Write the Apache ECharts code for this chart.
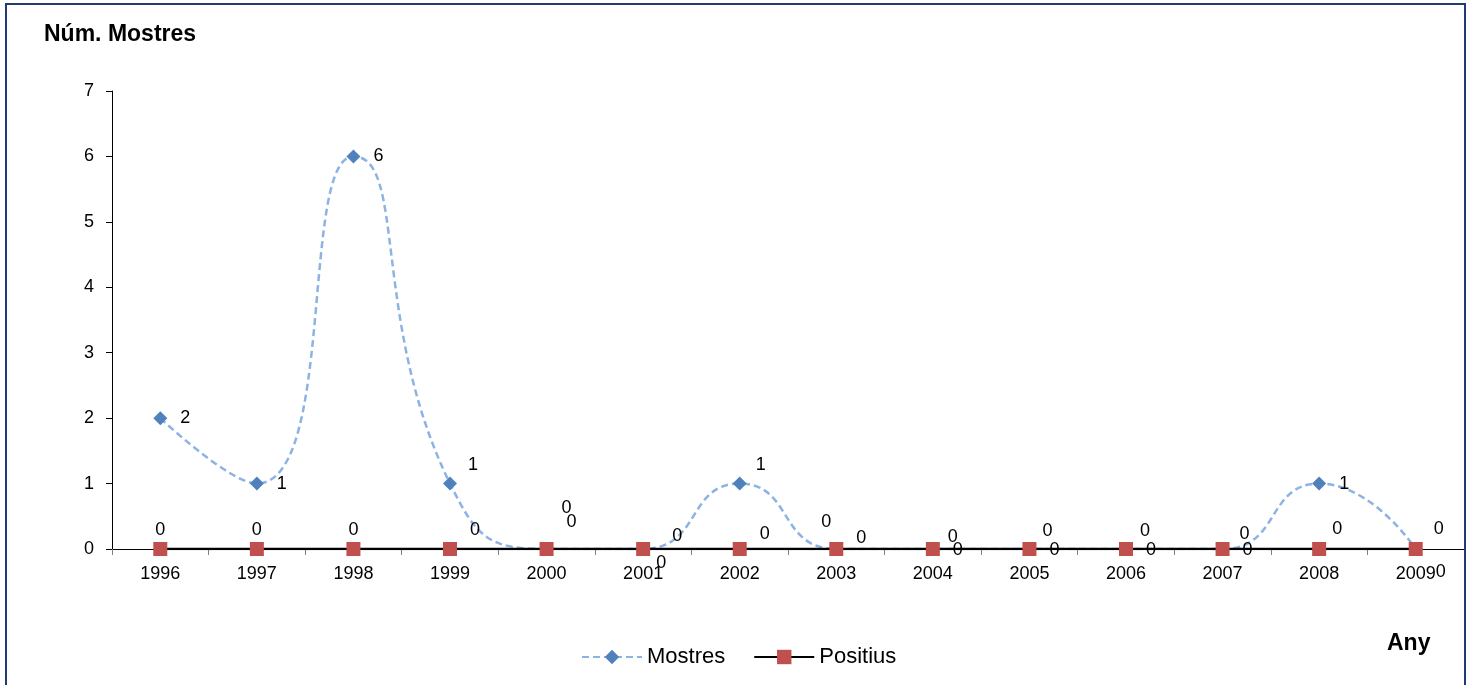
<!DOCTYPE html>
<html>
<head>
<meta charset="utf-8">
<script src="https://cdn.jsdelivr.net/npm/echarts@6/dist/echarts.min.js"></script>
<style>
html,body{margin:0;padding:0;background:#fff;}
#chart{width:1470px;height:685px;}
</style>
</head>
<body>
<div id="chart"></div>
<script>
// ---- data ----
var years = ['1996','1997','1998','1999','2000','2001','2002','2003','2004','2005','2006','2007','2008','2009'];
var mostres = [2, 1, 6, 1, 0, 0, 1, 0, 0, 0, 0, 0, 1, 0];
var positius = [0, 0, 0, 0, 0, 0, 0, 0, 0, 0, 0, 0, 0, 0];
var yTicks = [0, 1, 2, 3, 4, 5, 6, 7];

// label nudges (styling only)
var offM = [[25,0],[25,0],[25,0],[23,-19],[25,-27],[34,-13],[21,-19],[25,-11],[25,1],[25,1],[25,1],[25,1],[25,0],[25,23]];
var offP = [[0,-19],[0,-19],[0,-19],[25,-19],[20,-41],[18,14],[25,-15],[-10,-27],[20,-12],[18,-18],[19,-18],[22,-15],[18,-20],[23,-20]];

var FONT = '"Liberation Sans", Arial, sans-serif';
var labelBase = {show:true, position:'inside', color:'#000', fontFamily:FONT, fontSize:18};

function build(vals, offs){
  return vals.map(function(v,i){
    return {value:v, label:{offset:offs[i]}};
  });
}

var chart = echarts.init(document.getElementById('chart'));
chart.setOption({
  animation:false,
  backgroundColor:'#fff',
  title:{
    text:'Núm. Mostres', left:39, top:18,
    textStyle:{fontFamily:FONT, fontSize:23, fontWeight:'bold', color:'#000'}
  },
  graphic:[
    {type:'rect', shape:{x:6, y:4, width:1459, height:700}, style:{fill:'none', stroke:'#1f3a78', lineWidth:2}, z:100},
    {type:'text', left:1387, top:632, style:{text:'Any', font:'bold 23px "Liberation Sans", Arial, sans-serif', fill:'#000'}}
  ],
  legend:{
    left:576, top:641, itemWidth:60, itemHeight:18, itemGap:28,
    textStyle:{fontFamily:FONT, fontSize:22, color:'#000'},
    data:['Mostres','Positius']
  },
  grid:{left:112, right:6, top:91, bottom:136, containLabel:false},
  xAxis:{
    type:'category', data:years, boundaryGap:true,
    axisLine:{lineStyle:{color:'#000', width:1}},
    axisTick:{show:true, length:6, lineStyle:{color:'#808080'}},
    axisLabel:{color:'#000', fontFamily:FONT, fontSize:18, margin:16}
  },
  yAxis:{
    type:'value', min:0, max:7, interval:1,
    axisLine:{show:true, lineStyle:{color:'#000', width:1}},
    axisTick:{show:true, length:6, lineStyle:{color:'#000'}},
    splitLine:{show:false},
    axisLabel:{color:'#000', fontFamily:FONT, fontSize:18, margin:18,
      formatter:function(v){return yTicks.indexOf(v)>=0 ? String(v) : '';}}
  },
  series:[
    {
      name:'Mostres', type:'line', smooth:0.55,
      data:build(mostres, offM),
      label:labelBase,
      symbol:'diamond', symbolSize:14,
      lineStyle:{color:'#8db3e2', width:2.5, type:[7,4]},
      itemStyle:{color:'#4f81bd'},
      z:3
    },
    {
      name:'Positius', type:'line',
      data:build(positius, offP),
      label:labelBase,
      symbol:'rect', symbolSize:14,
      lineStyle:{color:'#000', width:2.5},
      itemStyle:{color:'#c0504d'},
      z:4
    }
  ]
});
</script>
</body>
</html>
